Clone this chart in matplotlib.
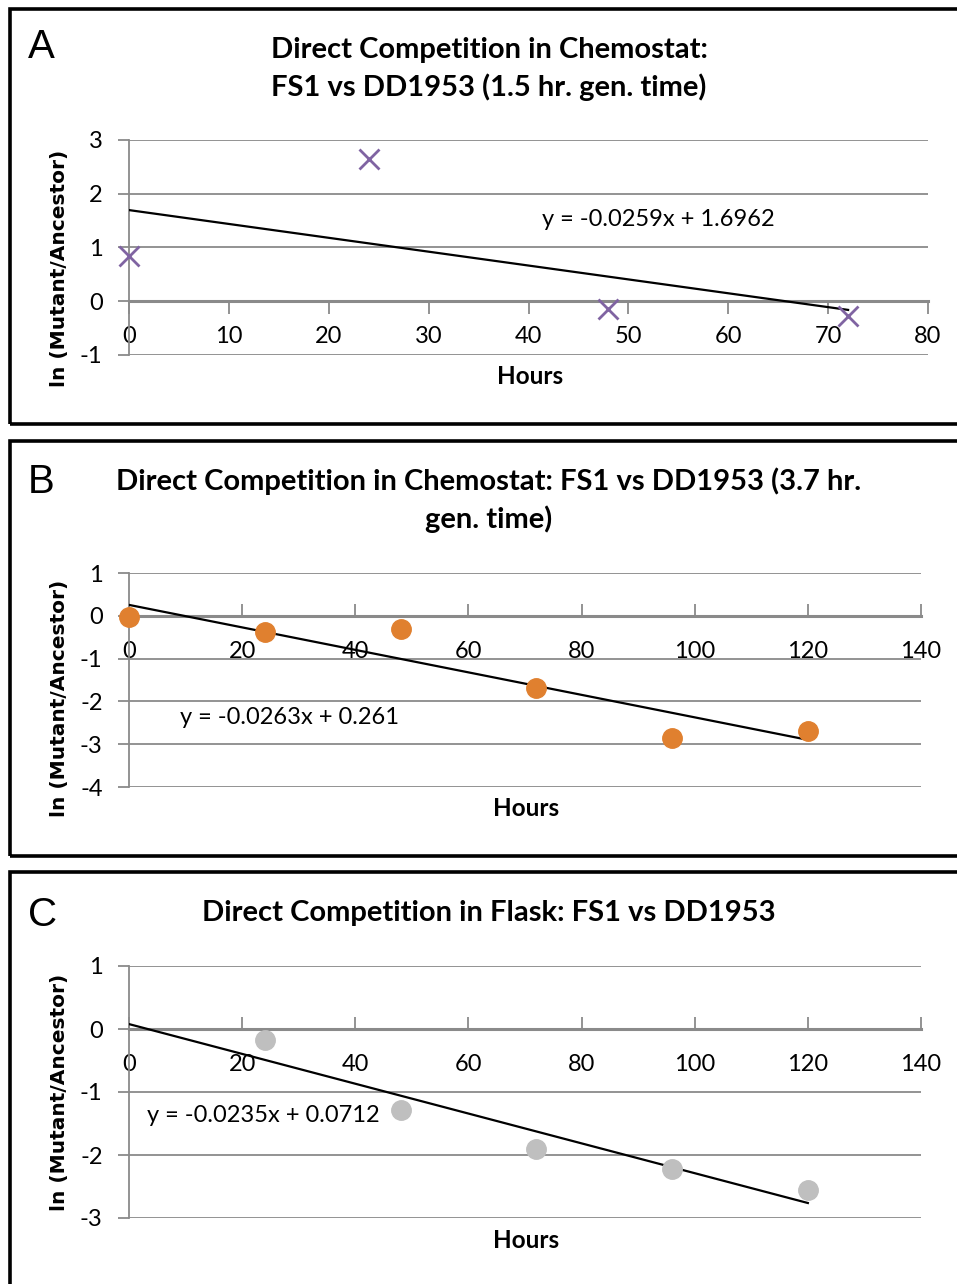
import matplotlib
matplotlib.use("Agg")
import matplotlib.pyplot as plt
import numpy as np
from matplotlib.patches import Rectangle

# ---------------- data ----------------
hours_a = [0, 24, 48, 72]
ln_a = [0.85, 2.65, -0.15, -0.28]
eq_a = "y = -0.0259x + 1.6962"

hours_b = [0, 24, 48, 72, 96, 120]
ln_b = [-0.02, -0.38, -0.32, -1.68, -2.85, -2.68]
eq_b = "y = -0.0263x + 0.261"

hours_c = [24, 48, 72, 96, 120]
ln_c = [-0.18, -1.28, -1.90, -2.22, -2.55]
eq_c = "y = -0.0235x + 0.0712"

titles = ["Direct Competition in Chemostat:\nFS1 vs DD1953 (1.5 hr. gen. time)",
          "Direct Competition in Chemostat: FS1 vs DD1953 (3.7 hr.\ngen. time)",
          "Direct Competition in Flask: FS1 vs DD1953"]
letters = ["A", "B", "C"]
ylabel = "ln (Mutant/Ancestor)"
xlabel = "Hours"

W, H = 957, 1284
fig = plt.figure(figsize=(W / 100, H / 100), dpi=100)

def fx(px):
    return px / W

def fy(py):
    return 1 - py / H

FONT = "Lato"
GRID = "#8a8a8a"

def make_axes(x0, x1, ytop, ybot):
    return fig.add_axes([fx(x0), fy(ybot), fx(x1) - fx(x0), (ybot - ytop) / H])

def style(ax, xlim, xticks, ylim, yticks, tickdir):
    for s in ["top", "right"]:
        ax.spines[s].set_visible(False)
    ax.spines["bottom"].set_position(("data", 0))
    ax.set_xlim(*xlim)
    ax.set_ylim(*ylim)
    ax.set_yticks(yticks)
    ax.set_xticks(xticks)
    ax.set_yticklabels([str(v) for v in yticks], fontname=FONT, fontsize=17)
    ax.set_xticklabels([str(v) for v in xticks], fontname=FONT, fontsize=17)
    ax.grid(axis="y", color=GRID, lw=1.3)
    ax.set_axisbelow(True)
    ax.spines["left"].set_color(GRID)
    ax.spines["left"].set_linewidth(1.3)
    ax.spines["bottom"].set_color(GRID)
    ax.spines["bottom"].set_linewidth(2.2)
    ax.tick_params(axis="y", length=8, width=1.3, color=GRID, pad=11)
    if tickdir == "out":
        ax.tick_params(axis="x", direction="out", length=9, width=1.3, color=GRID, pad=9)
    else:
        ax.tick_params(axis="x", direction="in", length=9, width=1.3, color=GRID, pad=18)
    ax.patch.set_alpha(0)

def trend(ax, x, y, x0, x1):
    k, b = np.polyfit(x, y, 1)
    xs = np.array([x0, x1])
    ax.plot(xs, k * xs + b, color="black", lw=1.6, zorder=4)

# Panel boxes
for (top, bot) in [(9, 424), (441, 856), (872, 1300)]:
    fig.patches.append(Rectangle((fx(10), fy(bot)), fx(1000) - fx(10), (bot - top) / H,
                                 transform=fig.transFigure, fill=False,
                                 edgecolor="black", lw=2.6))

# ---------- Panel A ----------
axA = make_axes(129, 928, 140, 355)
style(axA, (0, 80), list(range(0, 81, 10)), (-1, 3), [-1, 0, 1, 2, 3], "out")
trend(axA, hours_a, ln_a, 0, 72)
axA.plot(hours_a, ln_a, linestyle="none", marker="x", ms=14, mew=2,
         color="#8064A2", zorder=5, clip_on=False)
axA.text(41.4, 1.53, eq_a, fontname=FONT, fontsize=17, va="center", ha="left")

# ---------- Panel B ----------
axB = make_axes(129, 921, 573, 787)
style(axB, (0, 140), list(range(0, 141, 20)), (-4, 1), [-4, -3, -2, -1, 0, 1], "in")
trend(axB, hours_b, ln_b, 0, 120)
axB.plot(hours_b, ln_b, linestyle="none", marker="o", ms=14,
         color="#E0802F", zorder=5, clip_on=False)
axB.text(9.0, -2.38, eq_b, fontname=FONT, fontsize=17, va="center", ha="left")

# ---------- Panel C ----------
axC = make_axes(129, 921, 966, 1218)
style(axC, (0, 140), list(range(0, 141, 20)), (-3, 1), [-3, -2, -1, 0, 1], "in")
trend(axC, hours_c, ln_c, 0, 120)
axC.plot(hours_c, ln_c, linestyle="none", marker="o", ms=14,
         color="#BFBFBF", zorder=5, clip_on=False)
axC.text(3.2, -1.37, eq_c, fontname=FONT, fontsize=17, va="center", ha="left")

# ---------- texts ----------
title_pos = [(489, 69), (489, 500), (489, 913)]
letter_pos = [(28, 47), (28, 482), (28, 915)]
ylab_pos = [(60, 268), (60, 698), (60, 1092)]
xlab_pos = [(530, 377), (526, 808), (526, 1241)]
for i in range(3):
    fig.text(fx(title_pos[i][0]), fy(title_pos[i][1]), titles[i], fontname=FONT,
             fontweight="bold", fontsize=21, ha="center", va="center", linespacing=1.45)
    fig.text(fx(letter_pos[i][0]), fy(letter_pos[i][1]), letters[i],
             fontname="Liberation Sans", fontsize=29, ha="left", va="center")
    fig.text(fx(ylab_pos[i][0]), fy(ylab_pos[i][1]), ylabel, fontname="DejaVu Sans",
             fontweight="bold", fontsize=14.5, rotation=90, ha="center", va="center")
    fig.text(fx(xlab_pos[i][0]), fy(xlab_pos[i][1]), xlabel, fontname=FONT,
             fontweight="bold", fontsize=17.5, ha="center", va="center")

fig.savefig("out.png", dpi=100, facecolor="white")
